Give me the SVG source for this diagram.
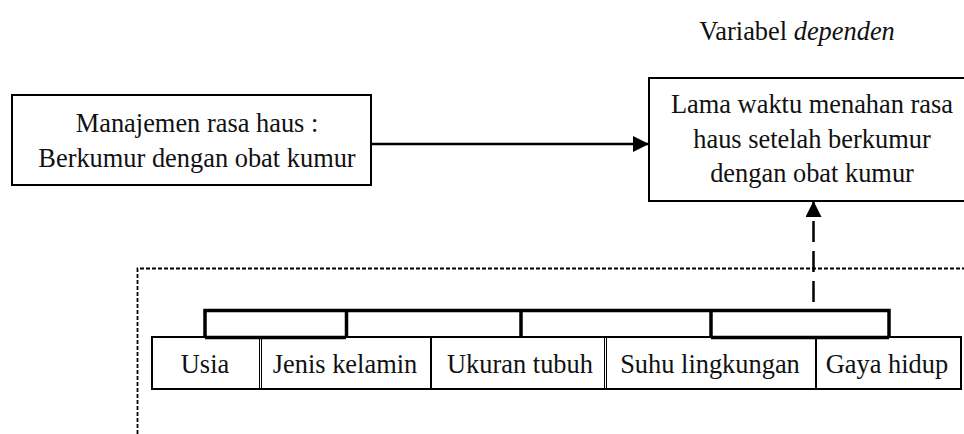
<svg xmlns="http://www.w3.org/2000/svg" width="964" height="434" viewBox="0 0 964 434">
<defs>
<style>
text{font-family:"Liberation Serif","Times New Roman",serif;font-size:26.4px;fill:#111;text-anchor:middle}
.box{fill:#fff;stroke:#000;stroke-width:2}
.cell{fill:none;stroke:#000;stroke-width:2}
.thin{stroke:#000;stroke-width:1}
.br{fill:none;stroke:#000;stroke-width:3.5}
</style>
<marker id="ah" markerWidth="16" markerHeight="16" viewBox="0 0 16 16" refX="16" refY="8" orient="auto" markerUnits="userSpaceOnUse"><path d="M0,0 L16,8 L0,16 Z" fill="#000"/></marker>
</defs>
<rect width="964" height="434" fill="#fff"/>
<text x="797" y="40" id="lbl-dependen">Variabel <tspan font-style="italic">dependen</tspan></text>
<g id="frame">
<path d="M137.5,434 V268.5 H966" fill="none" stroke="#000" stroke-width="1.8" stroke-dasharray="4,2"/>
</g>
<g id="node-manajemen">
<rect class="box" x="12" y="95" width="359" height="90"/>
<text x="197" y="132">Manajemen rasa haus :</text>
<text x="197" y="167">Berkumur dengan obat kumur</text>
</g>
<g id="node-lama">
<rect class="box" x="649" y="78" width="320" height="123"/>
<text x="812" y="113">Lama waktu menahan rasa</text>
<text x="812" y="147.5">haus setelah berkumur</text>
<text x="812" y="182">dengan obat kumur</text>
</g>
<g id="node-faktor">
<rect class="cell" x="152" y="337" width="809" height="52"/>
<line class="thin" x1="259.5" y1="337" x2="259.5" y2="389"/>
<line class="thin" x1="261.5" y1="337" x2="261.5" y2="389"/>
<line class="cell" x1="431" y1="337" x2="431" y2="389"/>
<line class="thin" x1="604.5" y1="337" x2="604.5" y2="389"/>
<line class="thin" x1="606.5" y1="337" x2="606.5" y2="389"/>
<line class="cell" x1="816" y1="337" x2="816" y2="389"/>
<text x="205" y="373">Usia</text>
<text x="345" y="373">Jenis kelamin</text>
<text x="520" y="373">Ukuran tubuh</text>
<text x="710" y="373">Suhu lingkungan</text>
<text x="887" y="373">Gaya hidup</text>
<path class="br" d="M205,337.5 V310.5 H889 V337.5 M205,337.5 H346 M346.5,310.5 V337.5 M521,310.5 V337 M711,337.5 V310.5 M711,337.5 H889"/>
</g>
<g id="connectors">
<line x1="371" y1="144" x2="649" y2="144" stroke="#000" stroke-width="2.5" marker-end="url(#ah)"/>
<line x1="813.5" y1="302" x2="813.5" y2="201" stroke="#000" stroke-width="2.5" stroke-dasharray="21,9" marker-end="url(#ah)"/>
</g>
</svg>
